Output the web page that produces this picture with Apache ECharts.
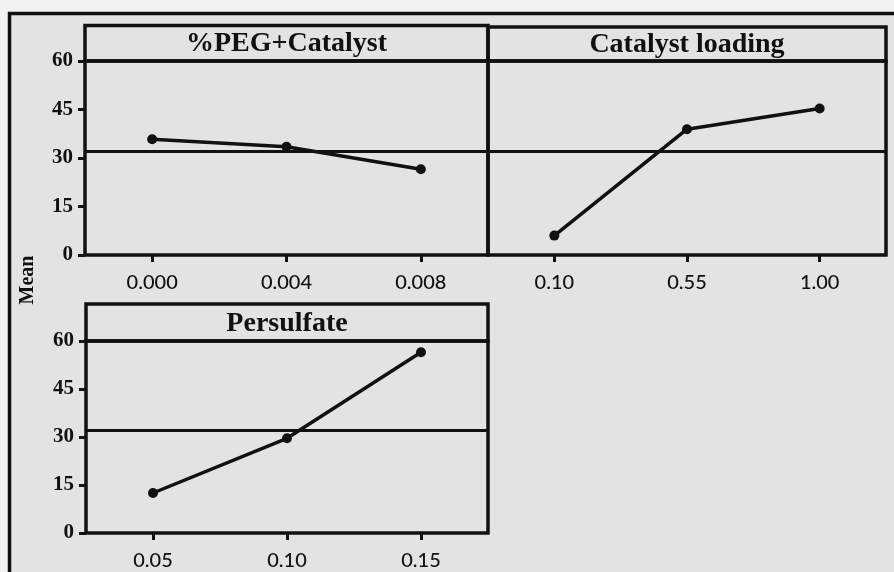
<!DOCTYPE html>
<html>
<head>
<meta charset="utf-8">
<script src="https://cdn.jsdelivr.net/npm/echarts@6/dist/echarts.min.js"></script>
<style>
  html, body { margin: 0; padding: 0; background: #f2f2f2; }
  #chart { width: 894px; height: 572px; }
</style>
</head>
<body>
<div id="chart"></div>
<script>
// Main effects plot for mean response
const pegLevels = ['0.000', '0.004', '0.008'];
const pegMeans = [35.8, 33.5, 26.5];

const catalystLevels = ['0.10', '0.55', '1.00'];
const catalystMeans = [6.0, 38.9, 45.3];

const persulfateLevels = ['0.05', '0.10', '0.15'];
const persulfateMeans = [12.5, 29.6, 56.5];

const panelTitles = ['%PEG+Catalyst', 'Catalyst loading', 'Persulfate'];
const overallMean = 32.2;
const yMin = 0, yMax = 60, yStep = 15;

// panel geometry (plot area) and the header strip above each one
const panels = [
  { left: 85,  top: 61,  width: 403, height: 194, headerTop: 25.5, yLabels: true },
  { left: 488, top: 61,  width: 398, height: 194, headerTop: 27,   yLabels: false },
  { left: 86,  top: 341, width: 402, height: 192, headerTop: 304,  yLabels: true }
];
const levels = [pegLevels, catalystLevels, persulfateLevels];
const means = [pegMeans, catalystMeans, persulfateMeans];

const ink = '#111111';
const serif = '"Liberation Serif", "Times New Roman", serif';

const chart = echarts.init(document.getElementById('chart'));

const grids = panels.map(p => ({
  left: p.left, top: p.top, width: p.width, height: p.height,
  show: true, borderColor: ink, borderWidth: 3.5, backgroundColor: 'transparent',
  containLabel: false
}));

const xAxes = panels.map((p, i) => ({
  type: 'category', gridIndex: i, data: levels[i], boundaryGap: true,
  axisLine: { show: false },
  axisTick: { show: true, alignWithLabel: true, length: 7, lineStyle: { color: ink, width: 3 } },
  axisLabel: { color: ink, fontFamily: 'Lato, "Open Sans", sans-serif', fontWeight: 500, fontSize: 20, margin: 18 },
  splitLine: { show: false }
}));

const yAxes = panels.map((p, i) => ({
  type: 'value', gridIndex: i, min: yMin, max: yMax, interval: yStep,
  axisLine: { show: false },
  axisTick: { show: p.yLabels, length: 7, lineStyle: { color: ink, width: 3 } },
  axisLabel: { show: p.yLabels, color: ink, fontFamily: serif, fontWeight: 'bold', fontSize: 21, margin: 12 },
  splitLine: { show: false }
}));

const series = panels.map((p, i) => ({
  type: 'line', xAxisIndex: i, yAxisIndex: i, data: means[i],
  symbol: 'circle', symbolSize: 10,
  lineStyle: { color: ink, width: 3.5 },
  itemStyle: { color: ink },
  markLine: {
    silent: true, symbol: ['none', 'none'],
    label: { show: false },
    lineStyle: { type: 'solid', color: ink, width: 3 },
    data: [{ yAxis: overallMean }]
  }
}));

const graphics = [
  {
    type: 'rect', z: -1, silent: true,
    shape: { x: 9.5, y: 13.5, width: 1000, height: 700 },
    style: { fill: '#e3e3e3', stroke: ink, lineWidth: 3.5 }
  },
  {
    type: 'text', x: 28, y: 280, rotation: Math.PI / 2,
    style: { text: 'Mean', font: 'bold 20px ' + serif, fill: ink, align: 'center', verticalAlign: 'middle' }
  }
];
panels.forEach((p, i) => {
  graphics.push({
    type: 'rect', silent: true,
    shape: { x: p.left, y: p.headerTop, width: p.width, height: p.top - p.headerTop },
    style: { fill: 'none', stroke: ink, lineWidth: 3.5 }
  });
  graphics.push({
    type: 'text', x: p.left + p.width / 2, y: (p.headerTop + p.top) / 2 + 1,
    style: { text: panelTitles[i], font: 'bold 28px ' + serif, fill: ink, align: 'center', verticalAlign: 'middle' }
  });
});

chart.setOption({
  animation: false,
  backgroundColor: '#f2f2f2',
  grid: grids,
  xAxis: xAxes,
  yAxis: yAxes,
  series: series,
  graphic: graphics
});
</script>
</body>
</html>
